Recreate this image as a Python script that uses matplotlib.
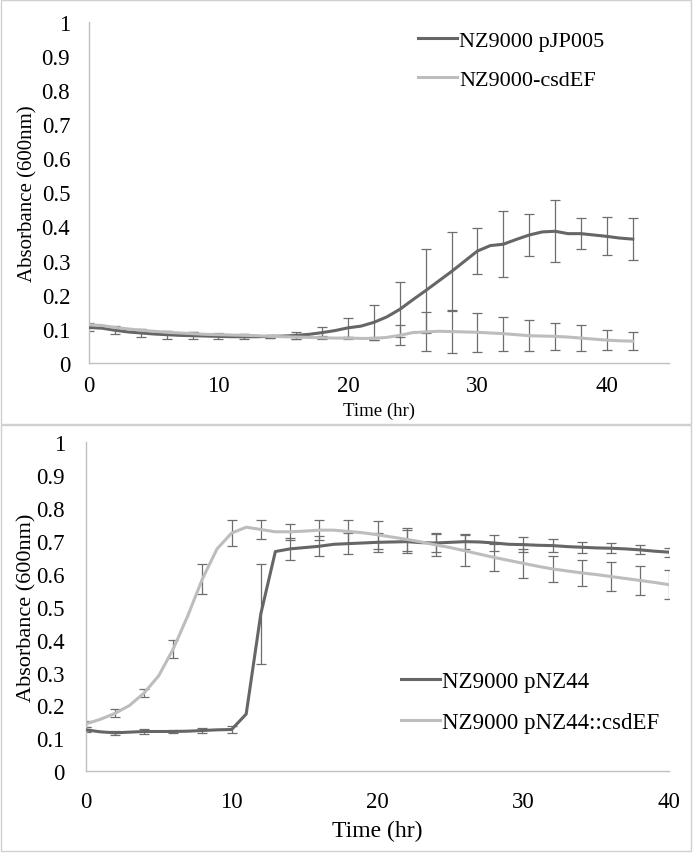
import matplotlib.pyplot as plt
from matplotlib.patches import Rectangle

plt.rcParams['font.family'] = ['Liberation Serif', 'DejaVu Serif']

# top panel: hourly readings, error bars every 2 hr
hours_top = list(range(0, 43))
pjp005 = [0.104, 0.102, 0.096, 0.091, 0.088, 0.085, 0.083, 0.081, 0.080, 0.079,
          0.078, 0.077, 0.077, 0.077, 0.078, 0.079, 0.081, 0.084, 0.089, 0.095,
          0.103, 0.108, 0.119, 0.135, 0.157, 0.185, 0.212, 0.240, 0.268, 0.298,
          0.328, 0.344, 0.348, 0.362, 0.375, 0.384, 0.386, 0.379, 0.379, 0.375,
          0.371, 0.366, 0.363]
csdef = [0.112, 0.110, 0.104, 0.100, 0.096, 0.093, 0.090, 0.088, 0.086, 0.084,
         0.083, 0.082, 0.081, 0.080, 0.078, 0.077, 0.076, 0.075, 0.074, 0.073,
         0.073, 0.072, 0.072, 0.075, 0.081, 0.089, 0.091, 0.093, 0.092, 0.091,
         0.090, 0.088, 0.086, 0.083, 0.080, 0.079, 0.078, 0.076, 0.073, 0.070,
         0.067, 0.065, 0.064]
pjp005_err = [0.010, 0.010, 0.012, 0.012, 0.010, 0.008, 0.008, 0.005, 0.010, 0.016,
              0.028, 0.052, 0.080, 0.123, 0.115, 0.067, 0.096, 0.062, 0.091, 0.046,
              0.056, 0.061]
csdef_err = [0.006, 0.005, 0.005, 0.005, 0.005, 0.005, 0.004, 0.004, 0.005, 0.005,
             0.004, 0.005, 0.029, 0.057, 0.062, 0.057, 0.050, 0.045, 0.040, 0.037,
             0.030, 0.026]

# bottom panel
hours_bot = list(range(0, 41))
pnz44 = [0.126, 0.120, 0.117, 0.119, 0.121, 0.121, 0.121, 0.122, 0.124, 0.126,
         0.127, 0.174, 0.478, 0.668, 0.676, 0.680, 0.684, 0.690, 0.692, 0.694,
         0.696, 0.697, 0.698, 0.695, 0.694, 0.696, 0.698, 0.697, 0.694, 0.690,
         0.689, 0.687, 0.686, 0.683, 0.681, 0.679, 0.678, 0.676, 0.673, 0.669,
         0.666]
pnz44_csdef = [0.144, 0.158, 0.176, 0.200, 0.238, 0.290, 0.372, 0.473, 0.585, 0.676,
               0.724, 0.742, 0.735, 0.728, 0.728, 0.730, 0.733, 0.733, 0.729, 0.725,
               0.719, 0.712, 0.705, 0.697, 0.688, 0.680, 0.670, 0.660, 0.650, 0.641,
               0.632, 0.623, 0.615, 0.609, 0.603, 0.598, 0.592, 0.586, 0.580, 0.574,
               0.567]
pnz44_err = [0.008, 0.007, 0.007, 0.006, 0.008, 0.010, 0.151, 0.033, 0.030, 0.031,
             0.028, 0.034, 0.028, 0.023, 0.025, 0.022, 0.020, 0.017, 0.015, 0.014,
             0.014]
pnz44_csdef_err = [0.010, 0.012, 0.013, 0.027, 0.045, 0.040, 0.028, 0.025, 0.030, 0.036,
                   0.043, 0.035, 0.035, 0.047, 0.040, 0.045, 0.040, 0.040, 0.043, 0.043,
                   0.044]

DARK = '#666666'
LIGHT = '#bdbdbd'
ERR = '#6e6e6e'
AXIS = '#bfbfbf'

fig = plt.figure(figsize=(6.93, 8.54), dpi=100)

# panel frames
fig.patches.append(Rectangle((1 / 693, 1 - 425 / 854), 690 / 693, 424 / 854,
                             transform=fig.transFigure, fill=False, ec='#d0d0d0', lw=1))
fig.patches.append(Rectangle((1 / 693, 1 - 852 / 854), 690 / 693, 426 / 854,
                             transform=fig.transFigure, fill=False, ec='#d0d0d0', lw=1))


def draw_series(ax, hours, values, errs, color, label):
    ax.plot(hours, values, color=color, lw=2.2, label=label, zorder=3)
    ax.errorbar(hours[::2], values[::2], yerr=errs, fmt='none', ecolor=ERR,
                elinewidth=0.9, capsize=3.5, capthick=0.9, zorder=2)


def style_axes(ax, xmax, fs, ypad, xpad):
    ax.set_xlim(0, xmax)
    ax.set_ylim(0, 1)
    ax.set_xticks([0, 10, 20, 30, 40])
    ax.set_yticks([i / 10 for i in range(11)])
    ax.set_yticklabels(['0'] + ['0.%d' % i for i in range(1, 10)] + ['1'])
    for s in ['top', 'right']:
        ax.spines[s].set_visible(False)
    for s in ['left', 'bottom']:
        ax.spines[s].set_color(AXIS)
        ax.spines[s].set_linewidth(1)
    ax.tick_params(axis='y', length=0, labelsize=fs, pad=ypad)
    ax.tick_params(axis='x', length=0, labelsize=fs, pad=xpad)


ax1 = fig.add_axes([89 / 693, 1 - 364 / 854, 580 / 693, 341.3 / 854])
draw_series(ax1, hours_top, pjp005, pjp005_err, DARK, 'NZ9000 pJP005')
draw_series(ax1, hours_top, csdef, csdef_err, LIGHT, 'NZ9000-csdEF')
style_axes(ax1, 44.8, 16.5, 13.5, 8.5)
ax1.set_ylabel('Absorbance (600nm)', fontsize=15, labelpad=3)
ax1.set_xlabel('Time (hr)', fontsize=13.5, labelpad=4)
ax1.legend(loc='upper left', bbox_to_anchor=(418 / 693, 1 - 31 / 854),
           bbox_transform=fig.transFigure, frameon=False, fontsize=16,
           handlelength=1.75, handletextpad=0.1, labelspacing=0.85,
           borderpad=0, borderaxespad=0)

ax2 = fig.add_axes([85.7 / 693, 1 - 772.3 / 854, 583.6 / 693, 329 / 854])
draw_series(ax2, hours_bot, pnz44, pnz44_err, DARK, 'NZ9000 pNZ44')
draw_series(ax2, hours_bot, pnz44_csdef, pnz44_csdef_err, LIGHT, 'NZ9000 pNZ44::csdEF')
style_axes(ax2, 40, 16.5, 15, 14.5)
ax2.set_ylabel('Absorbance (600nm)', fontsize=16, labelpad=0)
ax2.set_xlabel('Time (hr)', fontsize=17, labelpad=5)
ax2.legend(loc='upper left', bbox_to_anchor=(401 / 693, 1 - 672 / 854),
           bbox_transform=fig.transFigure, frameon=False, fontsize=16.5,
           handlelength=1.7, handletextpad=0.1, labelspacing=0.88,
           borderpad=0, borderaxespad=0)

fig.savefig('out.png', dpi=100)
